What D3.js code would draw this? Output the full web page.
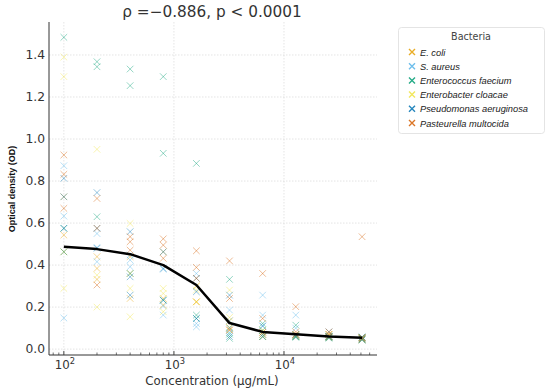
<!DOCTYPE html>
<html>
<head>
<meta charset="utf-8">
<script src="https://unpkg.com/d3@7/dist/d3.min.js"></script>
<style>
  body { margin: 0; background: #fff; }
  svg { font-family: "DejaVu Sans", sans-serif; }
</style>
</head>
<body>
<div id="chart"></div>
<script>
// concentrations tested (µg/mL)
const concentrations = [100, 200, 400, 800, 1600, 3200, 6400, 12800, 25600, 51200];

const bacteria = ["E. coli", "S. aureus", "Enterococcus faecium", "Enterobacter cloacae",
  "Pseudomonas aeruginosa", "Pasteurella multocida"];
const colors = ["#E69F00", "#56B4E9", "#009E73", "#F0E442", "#0072B2", "#D55E00"];

// OD replicates per concentration (3 each)
const ecoli = [[0.725, 0.543, 0.463], [0.44, 0.384, 0.332], [0.44, 0.36, 0.241], [0.463, 0.241, 0.21],
  [0.225, 0.225, 0.30], [0.135, 0.103, 0.09], [0.08, 0.07, 0.06], [0.07, 0.065, 0.06], [0.07, 0.06, 0.055], [0.055, 0.05, 0.045]];
const saureus = [[0.873, 0.633, 0.148], [0.55, 0.484, 0.416], [0.448, 0.424, 0.392], [0.38, 0.205, 0.162],
  [0.36, 0.122, 0.106], [0.186, 0.135, 0.08], [0.257, 0.162, 0.11], [0.162, 0.1, 0.06], [0.065, 0.06, 0.055], [0.055, 0.05, 0.045]];
const efaecium = [[1.484, 0.575, 0.463], [1.368, 1.344, 0.63], [1.333, 1.254, 0.36], [1.297, 0.932, 0.233],
  [0.884, 0.162, 0.146], [0.332, 0.071, 0.051], [0.122, 0.09, 0.059], [0.114, 0.06, 0.056], [0.06, 0.058, 0.052], [0.056, 0.05, 0.045]];
const ecloacae = [[1.39, 1.297, 0.289], [0.951, 0.352, 0.2], [0.598, 0.289, 0.154], [0.289, 0.265, 0.178],
  [0.281, 0.30, 0.225], [0.281, 0.151, 0.103], [0.09, 0.071, 0.06], [0.07, 0.065, 0.06], [0.07, 0.06, 0.055], [0.055, 0.05, 0.045]];
const paeruginosa = [[0.813, 0.725, 0.575], [0.745, 0.575, 0.48], [0.559, 0.344, 0.257], [0.463, 0.384, 0.233],
  [0.337, 0.273, 0.146], [0.257, 0.1, 0.06], [0.11, 0.07, 0.06], [0.07, 0.065, 0.06], [0.082, 0.06, 0.055], [0.058, 0.05, 0.045]];
const pmultocida = [[0.924, 0.832, 0.67], [0.717, 0.575, 0.305], [0.535, 0.511, 0.471], [0.525, 0.495, 0.432],
  [0.468, 0.389, 0.337], [0.42, 0.241, 0.092], [0.36, 0.146, 0.08], [0.202, 0.082, 0.07], [0.082, 0.07, 0.06], [0.535, 0.055, 0.05]];

// mean OD line
const meanOD = [0.487, 0.476, 0.452, 0.40, 0.305, 0.124, 0.082, 0.071, 0.06, 0.054];

const title = "ρ =−0.886, p < 0.0001";

const series = [ecoli, saureus, efaecium, ecloacae, paeruginosa, pmultocida];

const width = 550, height = 392;
const svg = d3.select("#chart").append("svg")
  .attr("width", width).attr("height", height);

const x = d3.scaleLog().domain([Math.pow(10, 1.865), Math.pow(10, 4.845)]).range([49, 377]);
const y = d3.scaleLinear().domain([-0.028, 1.557]).range([355, 22]);

// grid
const majorX = [100, 1000, 10000];
const yTicks = d3.range(0, 1.41, 0.2);
svg.append("g").selectAll("line").data(yTicks).join("line")
  .attr("x1", 49).attr("x2", 377)
  .attr("y1", d => y(d)).attr("y2", d => y(d))
  .attr("stroke", "#d8d8d8").attr("stroke-width", 0.7).attr("stroke-dasharray", "1.5,1.5");
svg.append("g").selectAll("line").data(majorX).join("line")
  .attr("x1", d => x(d)).attr("x2", d => x(d))
  .attr("y1", 22).attr("y2", 355)
  .attr("stroke", "#d8d8d8").attr("stroke-width", 0.7).attr("stroke-dasharray", "1.5,1.5");

// scatter points
const pts = [];
series.forEach((s, i) => {
  s.forEach((reps, j) => {
    reps.forEach(v => pts.push({ c: concentrations[j], v: v, k: i }));
  });
});
const r = 3.3;
svg.append("g").selectAll("path").data(pts).join("path")
  .attr("transform", d => `translate(${x(d.c)},${y(d.v)})`)
  .attr("d", `M${-r},${-r}L${r},${r}M${-r},${r}L${r},${-r}`)
  .attr("stroke", d => colors[d.k])
  .attr("stroke-width", 1)
  .attr("fill", "none")
  .attr("opacity", 0.42);

// mean line
const line = d3.line().x((d, i) => x(concentrations[i])).y(d => y(d));
svg.append("path").datum(meanOD)
  .attr("d", line)
  .attr("fill", "none").attr("stroke", "#000").attr("stroke-width", 2.5)
  .attr("stroke-linejoin", "round");

// spines
svg.append("line").attr("x1", 49).attr("x2", 49).attr("y1", 22).attr("y2", 355)
  .attr("stroke", "#333").attr("stroke-width", 1);
svg.append("line").attr("x1", 49).attr("x2", 377).attr("y1", 355).attr("y2", 355)
  .attr("stroke", "#333").attr("stroke-width", 1);

// x minor ticks
const minor = [];
for (let e = 1; e <= 4; e++) for (let m = 2; m <= 9; m++) {
  const v = m * Math.pow(10, e);
  if (v >= x.domain()[0] && v <= x.domain()[1]) minor.push(v);
}
svg.append("g").selectAll("line").data(minor).join("line")
  .attr("x1", d => x(d)).attr("x2", d => x(d))
  .attr("y1", 355).attr("y2", 352.5)
  .attr("stroke", "#333").attr("stroke-width", 0.7);
svg.append("g").selectAll("line").data(majorX).join("line")
  .attr("x1", d => x(d)).attr("x2", d => x(d))
  .attr("y1", 355).attr("y2", 351)
  .attr("stroke", "#333").attr("stroke-width", 0.9);

// y tick labels
svg.append("g").selectAll("text").data(yTicks).join("text")
  .attr("x", 45).attr("y", d => y(d) + 4.3)
  .attr("text-anchor", "end").attr("font-size", 12.3).attr("fill", "#333")
  .text(d => d.toFixed(1));

// x tick labels
const xl = svg.append("g").selectAll("text").data(majorX).join("text")
  .attr("x", d => x(d) + 1).attr("y", 369)
  .attr("text-anchor", "middle").attr("font-size", 11.8).attr("fill", "#333");
xl.append("tspan").text("10");
xl.append("tspan").attr("dy", -5).attr("font-size", 8.3).text(d => Math.round(Math.log10(d)));

// axis labels
svg.append("text").attr("x", 212).attr("y", 385).attr("text-anchor", "middle")
  .attr("font-size", 11.8).attr("fill", "#333").text("Concentration (µg/mL)");
svg.append("text").attr("transform", "translate(15,189) rotate(-90)")
  .attr("text-anchor", "middle").attr("font-size", 9)
  .attr("font-family", "'Liberation Sans', Arial, sans-serif").attr("font-weight", "bold")
  .attr("fill", "#111").text("Optical density (OD)");

// title
svg.append("text").attr("x", 212).attr("y", 17).attr("text-anchor", "middle")
  .attr("font-size", 15.3).attr("fill", "#333").text(title);

// legend
const lg = svg.append("g");
lg.append("rect").attr("x", 398.5).attr("y", 27.5).attr("width", 146).attr("height", 106)
  .attr("rx", 3).attr("fill", "#fff").attr("stroke", "#ddd").attr("stroke-width", 0.8);
lg.append("text").attr("x", 471).attr("y", 39.5).attr("text-anchor", "middle")
  .attr("font-size", 9.6).attr("fill", "#444").text("Bacteria");
const items = lg.selectAll("g.item").data(bacteria).join("g")
  .attr("transform", (d, i) => `translate(412,${52 + i * 14.2})`);
items.append("path")
  .attr("d", `M-3,-3L3,3M-3,3L3,-3`)
  .attr("stroke", (d, i) => colors[i]).attr("stroke-width", 1.4).attr("opacity", 0.85);
items.append("text").attr("x", 8).attr("y", 3.5)
  .attr("font-size", 9.3).attr("font-style", "italic")
  .attr("font-family", "'Liberation Sans', Arial, sans-serif").attr("fill", "#222")
  .text(d => d);
</script>
</body>
</html>
